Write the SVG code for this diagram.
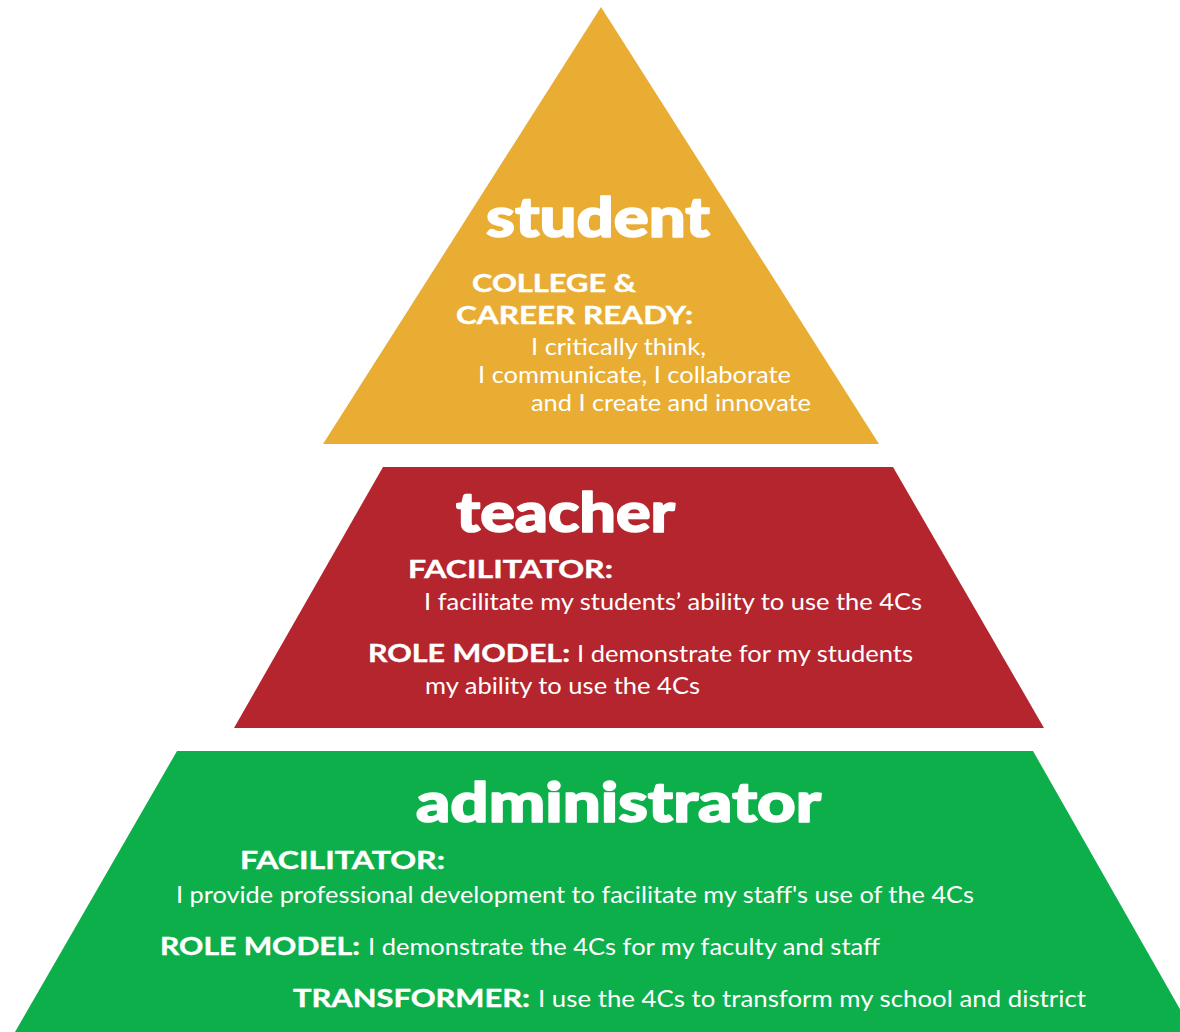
<svg xmlns="http://www.w3.org/2000/svg" width="1180" height="1032" viewBox="0 0 1180 1032">
<style>
.title{font-family:Lato,"DejaVu Sans",sans-serif;font-weight:900;font-size:55px;fill:#fff;stroke:#fff;stroke-width:1.6px;stroke-linejoin:round}
.lbl{font-family:Lato,"Liberation Sans",sans-serif;font-weight:700;font-size:25px;fill:#fff;stroke:#fff;stroke-width:0.4px}
.txt{font-family:Lato,"Liberation Sans",sans-serif;font-weight:400;font-size:24px;fill:#fff}
</style>
<rect width="1180" height="1032" fill="#fff"/>
<g id="student">
<polygon points="601,7 879,444 323,444" fill="#E8AD32"/>
<text class="title" x="486" y="237" textLength="224" lengthAdjust="spacingAndGlyphs">student</text>
<text class="lbl" x="472" y="292" textLength="164" lengthAdjust="spacingAndGlyphs">COLLEGE &amp;</text>
<text class="lbl" x="456" y="324" textLength="237" lengthAdjust="spacingAndGlyphs">CAREER READY:</text>
<text class="txt" x="531" y="355" textLength="175" lengthAdjust="spacingAndGlyphs">I critically think,</text>
<text class="txt" x="478" y="383" textLength="313" lengthAdjust="spacingAndGlyphs">I communicate, I collaborate</text>
<text class="txt" x="531" y="411" textLength="280" lengthAdjust="spacingAndGlyphs">and I create and innovate</text>
</g>
<g id="teacher">
<polygon points="383,467 893,467 1044,728 234,728" fill="#B4252E"/>
<text class="title" x="456" y="532" textLength="219" lengthAdjust="spacingAndGlyphs">teacher</text>
<text class="lbl" x="408" y="578" textLength="205" lengthAdjust="spacingAndGlyphs">FACILITATOR:</text>
<text class="txt" x="424" y="610" textLength="498" lengthAdjust="spacingAndGlyphs">I facilitate my students’ ability to use the 4Cs</text>
<text class="lbl" x="368" y="662" textLength="202" lengthAdjust="spacingAndGlyphs">ROLE MODEL:</text>
<text class="txt" x="577" y="662" textLength="336" lengthAdjust="spacingAndGlyphs">I demonstrate for my students</text>
<text class="txt" x="425" y="694" textLength="275" lengthAdjust="spacingAndGlyphs">my ability to use the 4Cs</text>
</g>
<g id="administrator">
<polygon points="177,751 1033,751 1193,1032 15,1032" fill="#0DAF4A"/>
<text class="title" x="416" y="822" textLength="405" lengthAdjust="spacingAndGlyphs">administrator</text>
<text class="lbl" x="240" y="869" textLength="205" lengthAdjust="spacingAndGlyphs">FACILITATOR:</text>
<text class="txt" x="176" y="903" textLength="798" lengthAdjust="spacingAndGlyphs">I provide professional development to facilitate my staff's use of the 4Cs</text>
<text class="lbl" x="160" y="955" textLength="200" lengthAdjust="spacingAndGlyphs">ROLE MODEL:</text>
<text class="txt" x="368" y="955" textLength="512" lengthAdjust="spacingAndGlyphs">I demonstrate the 4Cs for my faculty and staff</text>
<text class="lbl" x="293" y="1007" textLength="237" lengthAdjust="spacingAndGlyphs">TRANSFORMER:</text>
<text class="txt" x="538" y="1007" textLength="548" lengthAdjust="spacingAndGlyphs">I use the 4Cs to transform my school and district</text>
</g>
<g id="connectors"/>
</svg>
